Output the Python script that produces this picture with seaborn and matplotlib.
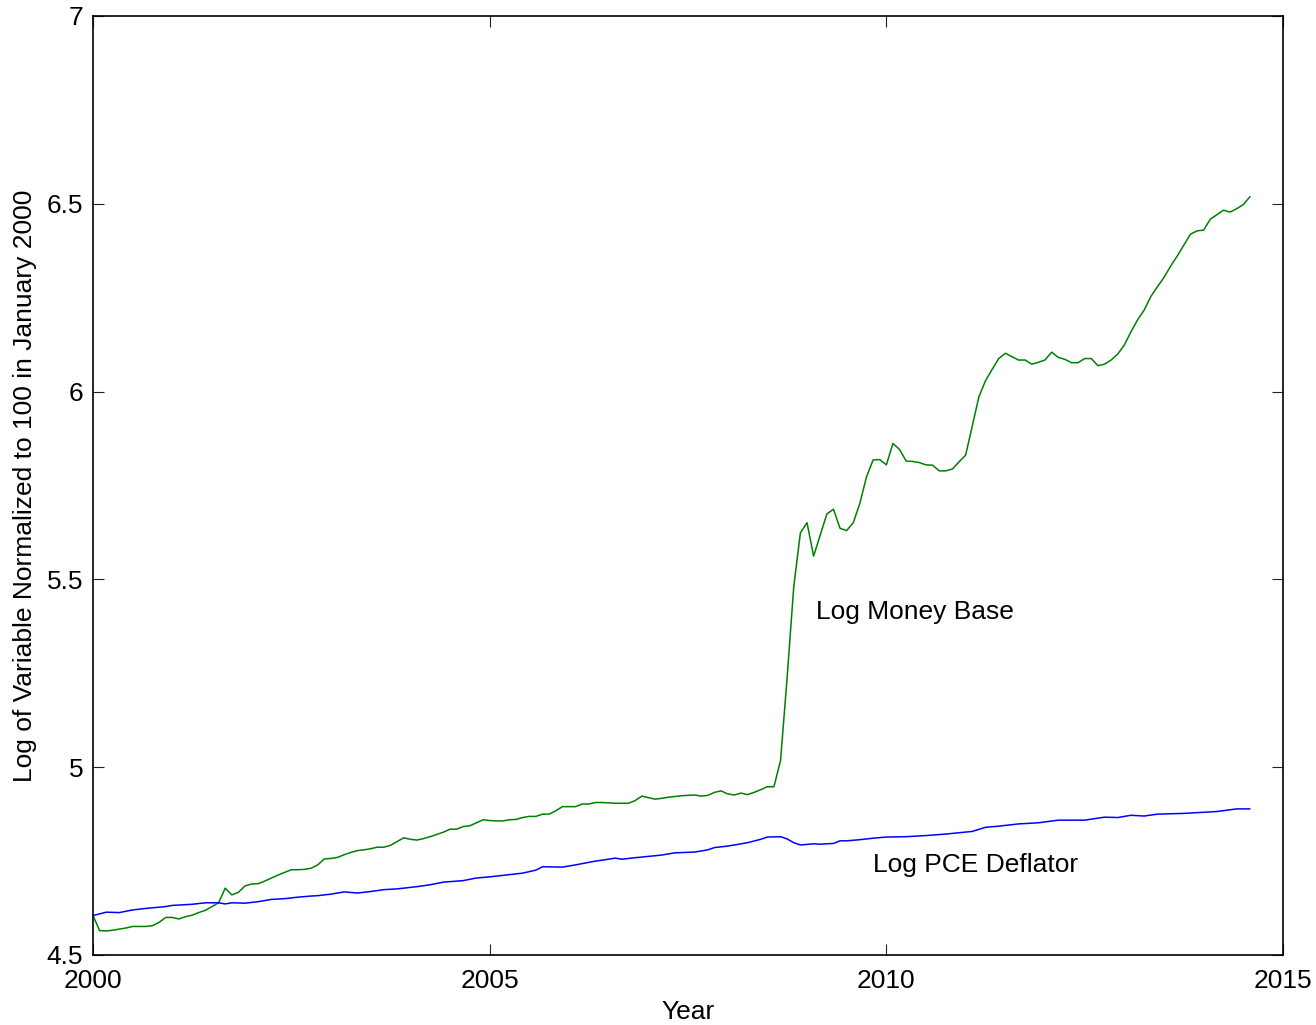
import seaborn as sns
import matplotlib
matplotlib.use("Agg")
import matplotlib.pyplot as plt
import pandas as pd
import numpy as np

# log money base, monthly from Jan 2000 (normalized to 100 in Jan 2000)
money_base = [
    4.605, 4.565, 4.564, 4.566, 4.569, 4.572, 4.576, 4.576, 4.576, 4.578, 4.587, 4.600,
    4.600, 4.596, 4.602, 4.606, 4.613, 4.619, 4.629, 4.639, 4.678, 4.660, 4.667, 4.684,
    4.689, 4.690, 4.697, 4.705, 4.713, 4.720, 4.727, 4.727, 4.728, 4.731, 4.740, 4.756,
    4.757, 4.760, 4.767, 4.773, 4.778, 4.780, 4.783, 4.787, 4.787, 4.792, 4.802, 4.812,
    4.808, 4.806, 4.810, 4.815, 4.821, 4.827, 4.835, 4.835, 4.842, 4.844, 4.852, 4.860,
    4.858, 4.857, 4.857, 4.860, 4.861, 4.866, 4.869, 4.869, 4.875, 4.875, 4.884, 4.895,
    4.895, 4.895, 4.902, 4.902, 4.906, 4.906, 4.905, 4.904, 4.904, 4.904, 4.911, 4.923,
    4.919, 4.915, 4.917, 4.920, 4.922, 4.924, 4.925, 4.926, 4.923, 4.925, 4.933, 4.937,
    4.929, 4.926, 4.931, 4.927, 4.933, 4.940, 4.948, 4.948, 5.018, 5.240, 5.481, 5.624,
    5.651, 5.562, 5.618, 5.674, 5.687, 5.636, 5.630, 5.651, 5.703, 5.773, 5.818, 5.819,
    5.805, 5.862, 5.846, 5.815, 5.814, 5.811, 5.805, 5.804, 5.789, 5.789, 5.794, 5.813,
    5.831, 5.908, 5.986, 6.029, 6.059, 6.088, 6.102, 6.093, 6.084, 6.084, 6.073, 6.078,
    6.084, 6.105, 6.091, 6.086, 6.077, 6.077, 6.088, 6.088, 6.069, 6.073, 6.084, 6.100,
    6.124, 6.159, 6.191, 6.217, 6.253, 6.279, 6.304, 6.334, 6.361, 6.390, 6.419, 6.428,
    6.430, 6.459, 6.471, 6.483, 6.478, 6.487, 6.498, 6.519,
]

# log PCE deflator, read at these month offsets from Jan 2000
pce_months = [0, 2, 4, 6, 8, 11, 12, 15, 17, 19, 20, 21, 23, 25, 27, 29, 31, 33, 34, 36,
              38, 40, 42, 44, 46, 49, 51, 53, 56, 58, 60, 63, 65, 67, 68, 71, 73, 76, 78, 79,
              80, 82, 86, 88, 91, 93, 94, 96, 99, 101, 102, 104, 105, 106, 107, 109, 110, 112, 113, 114,
              116, 118, 120, 123, 126, 129, 133, 135, 137, 140, 143, 146, 150, 153, 155, 157, 159, 161, 165, 170,
              173, 175]
pce = [4.605, 4.614, 4.613, 4.620, 4.624, 4.629, 4.632, 4.635, 4.639, 4.639, 4.636, 4.639, 4.638, 4.642, 4.648, 4.650, 4.654, 4.657, 4.658, 4.662,
       4.668, 4.665, 4.669, 4.674, 4.676, 4.682, 4.687, 4.694, 4.698, 4.705, 4.708, 4.714, 4.718, 4.726, 4.735, 4.734, 4.740, 4.750, 4.755, 4.758,
       4.755, 4.759, 4.766, 4.772, 4.774, 4.780, 4.786, 4.790, 4.799, 4.808, 4.814, 4.815, 4.809, 4.799, 4.793, 4.796, 4.795, 4.797, 4.804, 4.804,
       4.807, 4.811, 4.814, 4.815, 4.818, 4.822, 4.829, 4.840, 4.843, 4.849, 4.852, 4.859, 4.859, 4.867, 4.866, 4.872, 4.870, 4.875, 4.877, 4.882,
       4.889, 4.889]

x_ticks = [2000, 2005, 2010, 2015]
y_ticks = [4.5, 5, 5.5, 6, 6.5, 7]
y_tick_labels = ['4.5', '5', '5.5', '6', '6.5', '7']

df_mb = pd.DataFrame({'year': 2000 + np.arange(len(money_base)) / 12.0, 'value': money_base})
df_pce = pd.DataFrame({'year': 2000 + np.array(pce_months) / 12.0, 'value': pce})

sns.set_style("white")
plt.rcParams['font.family'] = ['Liberation Sans', 'DejaVu Sans']
plt.rcParams['text.color'] = 'black'
plt.rcParams['axes.labelcolor'] = 'black'
plt.rcParams['xtick.color'] = 'black'
plt.rcParams['ytick.color'] = 'black'
fs = 19

fig = plt.figure(figsize=(13.16, 10.25), dpi=100)
ax = fig.add_axes([93 / 1316, 70 / 1025, 1190 / 1316, 939 / 1025])

sns.lineplot(data=df_mb, x='year', y='value', color='#008000', linewidth=1.1, ax=ax)
sns.lineplot(data=df_pce, x='year', y='value', color='#0000ff', linewidth=1.1, ax=ax)

ax.text(2009.11, 5.413, 'Log Money Base', va='center', ha='left', fontsize=fs, color='black')
ax.text(2009.83, 4.740, 'Log PCE Deflator', va='center', ha='left', fontsize=fs, color='black')

ax.set_xlim(2000, 2015)
ax.set_ylim(4.5, 7)
ax.set_xticks(x_ticks)
ax.set_xticklabels([str(t) for t in x_ticks])
ax.set_yticks(y_ticks)
ax.set_yticklabels(y_tick_labels)
ax.tick_params(direction='in', length=8, width=0.8, top=True, right=True,
               bottom=True, left=True, labelsize=fs, color='#222222')
ax.tick_params(axis='x', pad=10)
ax.tick_params(axis='y', pad=7)
ax.set_xlabel('Year', fontsize=fs, labelpad=5)
ax.set_ylabel('Log of Variable Normalized to 100 in January 2000', fontsize=fs, labelpad=7)
for s in ax.spines.values():
    s.set_color('black')
    s.set_linewidth(1.2)

fig.savefig('out.png', dpi=100)
